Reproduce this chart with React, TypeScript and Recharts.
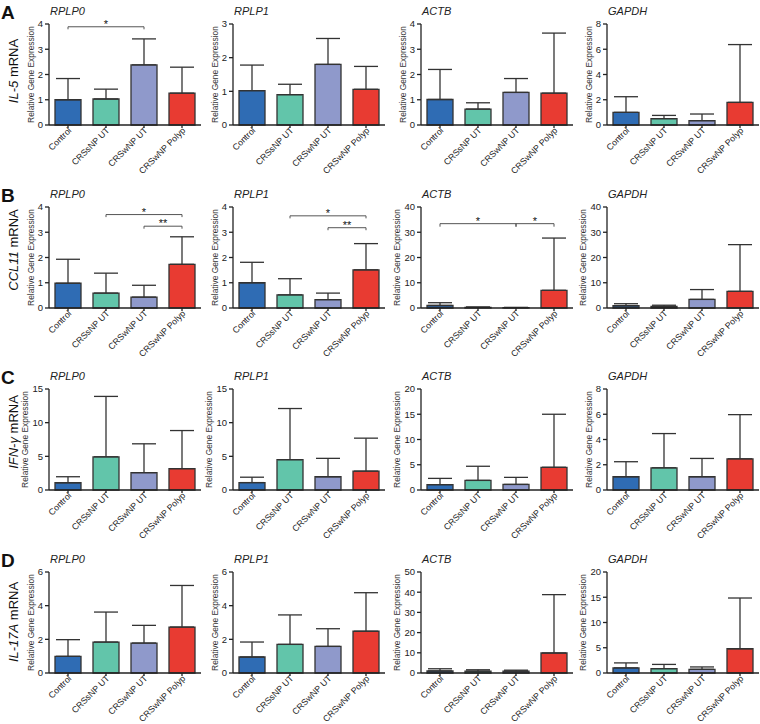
import React from 'react';
import { BarChart, Bar, XAxis, YAxis, ErrorBar, Cell, ReferenceLine } from 'recharts';

const groups = ['Control', 'CRSsNP UT', 'CRSwNP UT', 'CRSwNP Polyp'];
const groupColors = ['#2f6cb4', '#62c5aa', '#8f99cb', '#e83b32'];
const refGenes = ['RPLP0', 'RPLP1', 'ACTB', 'GAPDH'];
const panelLetters = ['A', 'B', 'C', 'D'];
const targetGenes = ['IL-5', 'CCL11', 'IFN-γ', 'IL-17A'];

// means per group (one inner array per reference gene) and mean + SD
const il5Mean = [[1.0, 1.03, 2.38, 1.26], [1.02, 0.9, 1.8, 1.06], [1.01, 0.63, 1.29, 1.26], [1.0, 0.5, 0.34, 1.79]];
const il5Upper = [[1.84, 1.42, 3.41, 2.29], [1.78, 1.21, 2.57, 1.74], [2.2, 0.88, 1.84, 3.64], [2.24, 0.76, 0.87, 6.37]];
const ccl11Mean = [[0.98, 0.59, 0.43, 1.73], [1.0, 0.52, 0.33, 1.51], [1.0, 0.25, 0.15, 7.0], [0.9, 0.6, 3.4, 6.6]];
const ccl11Upper = [[1.93, 1.38, 0.9, 2.82], [1.81, 1.16, 0.59, 2.55], [2.1, 0.4, 0.25, 27.7], [1.7, 1.1, 7.3, 25.1]];
const ifngMean = [[1.08, 4.93, 2.57, 3.16], [1.1, 4.5, 1.97, 2.8], [1.05, 1.9, 1.1, 4.5], [1.05, 1.76, 1.05, 2.47]];
const ifngUpper = [[1.97, 13.9, 6.86, 8.83], [1.9, 12.1, 4.7, 7.7], [2.3, 4.7, 2.5, 15.0], [2.24, 4.47, 2.5, 5.97]];
const il17aMean = [[0.99, 1.84, 1.78, 2.73], [0.95, 1.7, 1.58, 2.48], [1.0, 0.9, 0.9, 9.9], [1.0, 0.86, 0.73, 4.8]];
const il17aUpper = [[1.98, 3.62, 2.83, 5.2], [1.84, 3.45, 2.63, 4.77], [2.1, 1.6, 1.4, 38.8], [2.0, 1.7, 1.2, 14.85]];

const il5Ticks = [[0, 1, 2, 3, 4], [0, 1, 2, 3], [0, 1, 2, 3, 4], [0, 2, 4, 6, 8]];
const ccl11Ticks = [[0, 1, 2, 3, 4], [0, 1, 2, 3, 4], [0, 10, 20, 30, 40], [0, 10, 20, 30, 40]];
const ifngTicks = [[0, 5, 10, 15], [0, 5, 10, 15], [0, 5, 10, 15, 20], [0, 2, 4, 6, 8]];
const il17aTicks = [[0, 2, 4, 6], [0, 2, 4, 6], [0, 10, 20, 30, 40, 50], [0, 5, 10, 15, 20]];

// significance brackets: [row, column, from group, to group, level, tick bottom, label]
const brackets: [number, number, number, number, number, number, string][] = [
  [0, 0, 0, 2, 3.89, 3.79, '*'],
  [1, 0, 1, 3, 3.7, 3.6, '*'],
  [1, 0, 2, 3, 3.24, 3.14, '**'],
  [1, 1, 1, 3, 3.65, 3.55, '*'],
  [1, 1, 2, 3, 3.18, 3.08, '**'],
  [1, 2, 0, 2, 33.4, 32.2, '*'],
  [1, 2, 2, 3, 33.4, 32.2, '*'],
];

const means = [il5Mean, ccl11Mean, ifngMean, il17aMean];
const uppers = [il5Upper, ccl11Upper, ifngUpper, il17aUpper];
const ticks = [il5Ticks, ccl11Ticks, ifngTicks, il17aTicks];

const FONT = '"Liberation Sans", Arial, Helvetica, sans-serif';
const plotTops = [24, 207, 389, 572];
const plotLefts = [49, 233, 421, 607];
const rowLabelY = [71, 250, 432, 622];
const PLOT_W = 152;
const PLOT_H = 101;
const Y_W = 40;
const M_TOP = 24;
const X_H = 52;

const XTick = (props: any) => {
  const { x, y, payload } = props;
  return (
    <g transform={`translate(${x + 4},${y + 3})`}>
      <text transform="rotate(-45)" textAnchor="end" fontSize={8.8} fill="#222" fontFamily={FONT}>
        {payload.value}
      </text>
    </g>
  );
};

const starLabel = (text: string) => (props: any) => {
  const vb = props.viewBox || {};
  const cx = (vb.x ?? 0) + (vb.width ?? 0) / 2;
  return (
    <text x={cx} y={(vb.y ?? 0) + 1} textAnchor="middle" fontSize={11} fill="#111" fontFamily={FONT}>
      {text}
    </text>
  );
};

const Panel = ({ row, col }: { row: number; col: number }) => {
  const m = means[row][col];
  const u = uppers[row][col];
  const t = ticks[row][col];
  const top = t[t.length - 1];
  const data = groups.map((g, i) => ({ group: g, mean: m[i], err: [0, u[i] - m[i]] }));
  const marks = brackets.filter((b) => b[0] === row && b[1] === col);
  return (
    <div style={{ position: 'absolute', left: plotLefts[col] - Y_W, top: plotTops[row] - M_TOP }}>
      <BarChart
        width={Y_W + PLOT_W + 2}
        height={M_TOP + PLOT_H + X_H}
        data={data}
        margin={{ top: M_TOP, right: 2, bottom: 0, left: 0 }}
        style={{ fontFamily: FONT }}
      >
        <XAxis
          dataKey="group"
          interval={0}
          tick={<XTick />}
          tickSize={3}
          tickMargin={0}
          height={X_H}
          stroke="#222"
          strokeWidth={1.3}
        />
        <YAxis
          width={Y_W}
          domain={[0, top]}
          ticks={t}
          interval={0}
          tickSize={4}
          tickMargin={2}
          stroke="#222"
          strokeWidth={1.3}
          tick={{ fontSize: 9.5, fill: '#222' }}
          label={{
            value: 'Relative Gene Expression',
            angle: -90,
            position: 'insideLeft',
            offset: top >= 10 ? 16 : 22,
            style: { textAnchor: 'middle', fontSize: 8.4, fill: '#333' },
          }}
        />
        <Bar dataKey="mean" barSize={26} stroke="#333" strokeWidth={1.3} isAnimationActive={false}>
          {data.map((d, i) => (
            <Cell key={d.group} fill={groupColors[i]} />
          ))}
          <ErrorBar dataKey="err" direction="y" width={12} stroke="#333" strokeWidth={1.3} />
        </Bar>
        {marks.map((b, k) => (
          <ReferenceLine
            key={`h${k}`}
            segment={[{ x: groups[b[2]], y: b[4] }, { x: groups[b[3]], y: b[4] }]}
            stroke="#555"
            strokeWidth={1}
            label={starLabel(b[6])}
          />
        ))}
        {marks.map((b, k) => (
          <ReferenceLine
            key={`l${k}`}
            segment={[{ x: groups[b[2]], y: b[4] }, { x: groups[b[2]], y: b[5] }]}
            stroke="#555"
            strokeWidth={1}
          />
        ))}
        {marks.map((b, k) => (
          <ReferenceLine
            key={`r${k}`}
            segment={[{ x: groups[b[3]], y: b[4] }, { x: groups[b[3]], y: b[5] }]}
            stroke="#555"
            strokeWidth={1}
          />
        ))}
      </BarChart>
    </div>
  );
};

export default function App() {
  return (
    <div style={{ position: 'absolute', left: 0, top: 0, width: 760, height: 724, background: '#fff', fontFamily: FONT }}>
      {panelLetters.map((_, r) => refGenes.map((_, c) => <Panel key={`${r}-${c}`} row={r} col={c} />))}
      <svg width={760} height={724} style={{ position: 'absolute', left: 0, top: 0, pointerEvents: 'none' }}>
        {panelLetters.map((letter, r) => (
          <g key={letter}>
            <text x={1} y={plotTops[r] - 5} fontSize={19} fontWeight="bold" fill="#111" fontFamily={FONT}>
              {letter}
            </text>
            <text
              transform={`translate(18,${rowLabelY[r]}) rotate(-90)`}
              textAnchor="middle"
              fontSize={13}
              fill="#111"
              fontFamily={FONT}
            >
              <tspan fontStyle="italic">{targetGenes[r]}</tspan>
              <tspan> mRNA</tspan>
            </text>
            {refGenes.map((g, c) => (
              <text
                key={g}
                x={plotLefts[c] + 1}
                y={plotTops[r] - 9}
                fontSize={11}
                fontStyle="italic"
                fill="#222"
                fontFamily={FONT}
              >
                {g}
              </text>
            ))}
          </g>
        ))}
      </svg>
    </div>
  );
}
